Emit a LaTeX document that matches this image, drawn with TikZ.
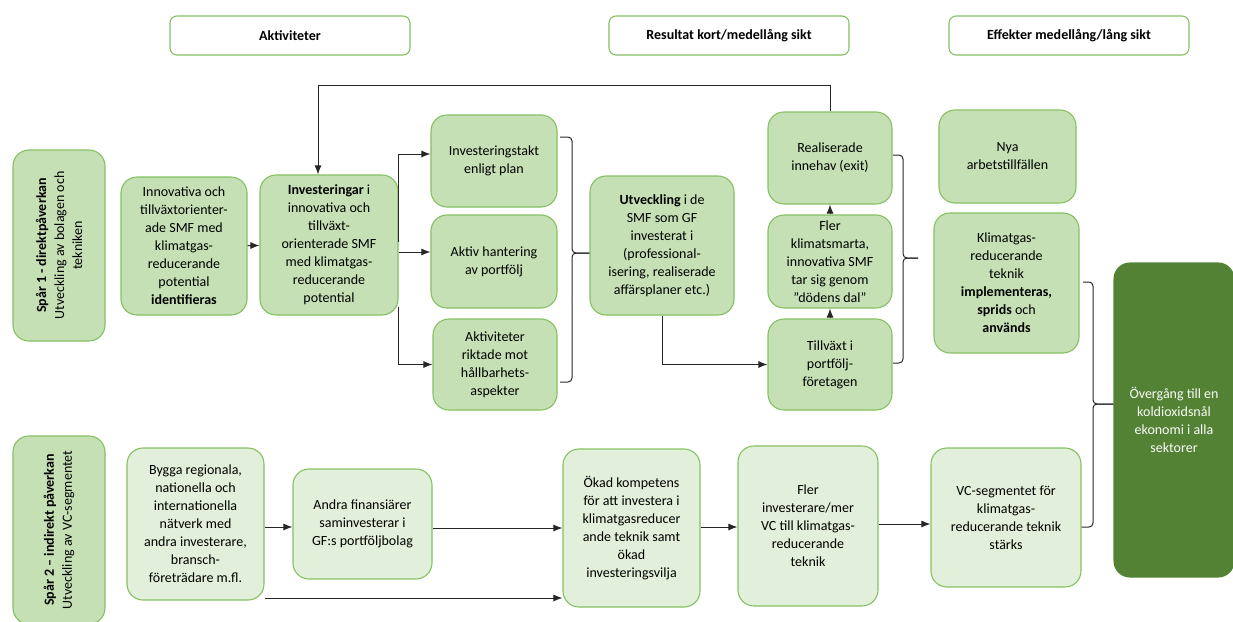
\documentclass[tikz,border=0pt]{standalone}
\usepackage{fontspec}
\setmainfont{Carlito}
\usetikzlibrary{arrows.meta}

\definecolor{boxfill}{HTML}{C5E0B4}
\definecolor{boxfilllight}{HTML}{E2EFDA}
\definecolor{boxline}{HTML}{86C062}
\definecolor{boxdark}{HTML}{548235}
\definecolor{lineclr}{HTML}{262626}

\begin{document}
\begin{tikzpicture}[x=1pt, y=-1pt,
    every node/.style={font=\fontsize{14}{18}\selectfont},
    box/.style={rectangle, rounded corners=16pt, draw=boxline, line width=1.1pt, fill=boxfill, align=center, inner sep=0pt},
    lightbox/.style={box, fill=boxfilllight},
    headbox/.style={rectangle, rounded corners=7pt, draw=boxline, line width=1.1pt, fill=white, font=\fontsize{14}{18}\selectfont\bfseries, minimum width=240pt, minimum height=39pt},
    conn/.style={draw=lineclr, line width=1pt},
    arr/.style={conn, -{Latex[length=9pt, width=7pt]}},
    bracket/.style={conn, rounded corners=4pt}]
    \useasboundingbox (0,0) rectangle (1233,621);

    % Column headers
    \node[headbox] (hAkt) at (290,35.5) {Aktiviteter};
    \node[headbox] (hRes) at (729,35.5) {Resultat kort/medellång sikt};
    \node[headbox] (hEff) at (1069,35.5) {Effekter medellång/lång sikt};

    % Track labels
    \node[box, rotate=90, minimum width=191pt, minimum height=92pt] (spar1) at (59,245.5)
        {\textbf{Spår 1 - direktpåverkan}\\ Utveckling av bolagen och\\ tekniken};
    \node[box, rotate=90, minimum width=188pt, minimum height=92pt] (spar2) at (59,530)
        {\textbf{Spår 2 – indirekt påverkan}\\ Utveckling av VC-segmentet};

    % Track 1 nodes
    \node[box, minimum width=126pt, minimum height=138pt] (ident) at (184,246)
        {Innovativa och\\ tillväxtorienter-\\ ade SMF med\\ klimatgas-\\ reducerande\\ potential\\ \textbf{identifieras}};
    \node[box, minimum width=138pt, minimum height=140pt] (inv) at (329,245)
        {\textbf{Investeringar} i\\ innovativa och\\ tillväxt-\\ orienterade SMF\\ med klimatgas-\\ reducerande\\ potential};
    \node[box, minimum width=126pt, minimum height=92pt] (takt) at (494,161)
        {Investeringstakt\\ enligt plan};
    \node[box, minimum width=126pt, minimum height=93pt] (aktiv) at (494,261.5)
        {Aktiv hantering\\ av portfölj};
    \node[box, minimum width=124pt, minimum height=91pt] (hall) at (495,364.5)
        {Aktiviteter\\ riktade mot\\ hållbarhets-\\ aspekter};
    \node[box, minimum width=144pt, minimum height=139pt] (utv) at (662,245.5)
        {\textbf{Utveckling} i de\\ SMF som GF\\ investerat i\\ (professional-\\ isering, realiserade\\ affärsplaner etc.)};
    \node[box, minimum width=124pt, minimum height=92pt] (real) at (830,158)
        {Realiserade\\ innehav (exit)};
    \node[box, minimum width=124pt, minimum height=93pt] (fler) at (830,261.5)
        {Fler\\ klimatsmarta,\\ innovativa SMF\\ tar sig genom\\ ”dödens dal”};
    \node[box, minimum width=124pt, minimum height=91pt] (tillv) at (830,364.5)
        {Tillväxt i\\ portfölj-\\ företagen};
    \node[box, minimum width=137pt, minimum height=93pt] (nya) at (1007.5,156.5)
        {Nya\\ arbetstillfällen};
    \node[box, minimum width=145pt, minimum height=140pt] (klim) at (1006.5,283)
        {Klimatgas-\\ reducerande\\ teknik\\ \textbf{implementeras,}\\ \textbf{sprids} och\\ \textbf{används}};
    \node[box, fill=boxdark, draw=boxdark, text=white!92!boxfill, minimum width=120pt, minimum height=314pt] (over) at (1174,420)
        {Övergång till en\\ koldioxidsnål\\ ekonomi i alla\\ sektorer};

    % Track 2 nodes
    \node[lightbox, minimum width=137pt, minimum height=152pt] (bygga) at (195.5,524)
        {Bygga regionala,\\ nationella och\\ internationella\\ nätverk med\\ andra investerare,\\ bransch-\\ företrädare m.fl.};
    \node[lightbox, minimum width=139pt, minimum height=110pt] (andra) at (362.5,524)
        {Andra finansiärer\\ saminvesterar i\\ GF:s portföljbolag};
    \node[lightbox, minimum width=137pt, minimum height=158pt] (okad) at (631.5,528)
        {Ökad kompetens\\ för att investera i\\ klimatgasreducer\\ ande teknik samt\\ ökad\\ investeringsvilja};
    \node[lightbox, minimum width=140pt, minimum height=160pt] (flerinv) at (808,526)
        {Fler\\ investerare/mer\\ VC till klimatgas-\\ reducerande\\ teknik};
    \node[lightbox, minimum width=150pt, minimum height=139pt] (vc) at (1006,517.5)
        {VC-segmentet för\\ klimatgas-\\ reducerande teknik\\ stärks};

    % Arrows track 1
    \draw[arr] (ident) -- (inv);
    \draw[arr] (inv.east |- 0,242) |- (takt.west |- 0,154);
    \draw[arr] (inv.east |- 0,252) -- (aktiv.west |- 0,252);
    \draw[arr] (inv.east |- 0,307) |- (hall.west);
    \draw[arr] (real.north) -- (real.north |- 0,85) -| ([xshift=-11pt]inv.north);
    \draw[arr] (utv.south) |- (tillv.west);
    \draw[arr] (tillv) -- (fler);
    \draw[arr] (fler) -- (real);

    % Brackets
    \draw[bracket] (560,137) -- (572,137) -- (572,253) -- (utv.west |- 0,253);
    \draw[bracket] (560,382) -- (572,382) -- (572,253) -- (utv.west |- 0,253);
    \draw[bracket] (893,155) -- (903,155) -- (903,258) -- (918,258);
    \draw[bracket] (893,363) -- (903,363) -- (903,258) -- (918,258);
    \draw[bracket] (1083,282) -- (1093,282) -- (1093,404) -- (over.west |- 0,404);
    \draw[bracket] (vc.east |- 0,527) -- (1093,527) -- (1093,404) -- (over.west |- 0,404);

    % Arrows track 2
    \draw[arr] (bygga.east |- 0,527) -- (andra.west |- 0,527);
    \draw[arr] (bygga.east |- 0,598) -- (okad.west |- 0,598);
    \draw[arr] (andra.east |- 0,528) -- (okad.west |- 0,528);
    \draw[arr] (okad.east |- 0,527) -- (flerinv.west |- 0,527);
    \draw[arr] (flerinv.east |- 0,524) -- (vc.west |- 0,524);
\end{tikzpicture}
\end{document}
